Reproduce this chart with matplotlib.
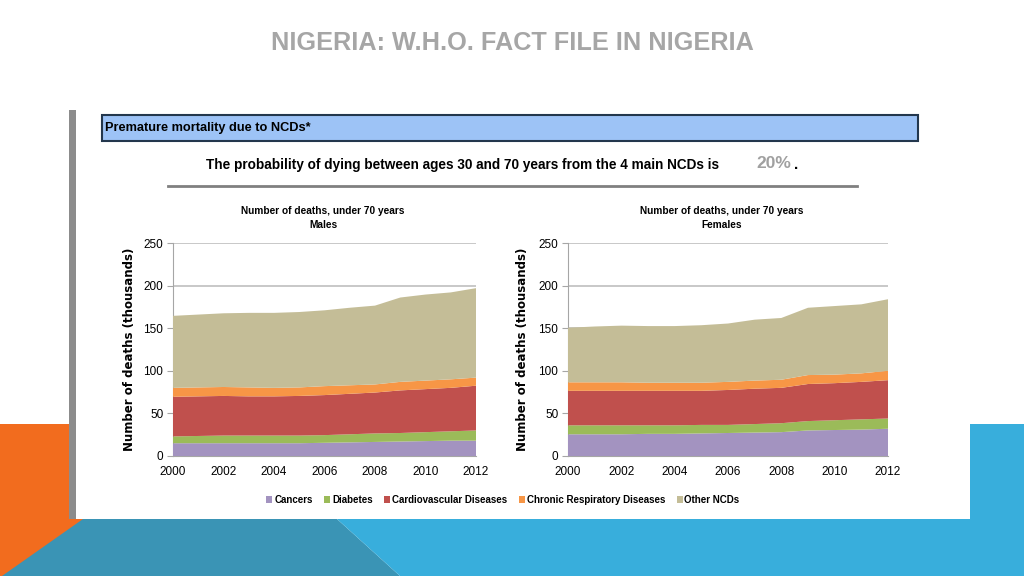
import matplotlib
matplotlib.use('Agg')
import matplotlib.pyplot as plt
from matplotlib.patches import Rectangle, Polygon

# data (thousands of deaths, under 70 years)
years = list(range(2000, 2013))
categories = ['Cancers', 'Diabetes', 'Cardiovascular Diseases',
              'Chronic Respiratory Diseases', 'Other NCDs']
colors = ['#A393C0', '#9BBB59', '#C0504D', '#F79646', '#C4BD97']

male_cancers = [15, 15, 15, 15, 15, 15, 15.5, 16, 16.5, 17, 17.5, 18, 18]
male_diabetes = [8, 8.5, 9, 9, 9, 9, 9, 9.5, 10, 10, 10.5, 11, 12]
male_cardio = [46.5, 46.5, 46.5, 46, 46, 46.5, 47, 47.5, 48, 50, 50.5, 51, 52.5]
male_resp = [10.5, 10.5, 10.5, 10.5, 10, 10, 10.5, 10, 9.5, 10, 10, 10, 9.5]
male_other = [84.5, 85.5, 86.5, 87.5, 88, 88.5, 89, 91, 92.5, 99, 101, 102, 105]

female_cancers = [25.5, 25.5, 25.5, 26, 26, 26.5, 27, 27.5, 28, 30, 30.5, 31, 32]
female_diabetes = [10.5, 10.5, 10.5, 10, 10, 10, 9.5, 10, 10.5, 11, 11.5, 12, 12]
female_cardio = [40.5, 40.5, 40.5, 40.5, 40.5, 40, 41, 41.5, 41.5, 43.5, 43.5, 44, 45]
female_resp = [10, 10, 10, 9.5, 9.5, 9.5, 9.5, 9.5, 9.5, 10.5, 10, 10, 11]
female_other = [64, 65.5, 66.5, 66.5, 66.5, 67.5, 68.5, 71.5, 72.5, 79, 80.5, 81, 84]

sans = ['Liberation Sans', 'DejaVu Sans']

fig = plt.figure(figsize=(10.24, 5.76), dpi=100)

# slide background in pixel coordinates
bg = fig.add_axes([0, 0, 1, 1], zorder=0)
bg.set_xlim(0, 1024)
bg.set_ylim(576, 0)
bg.axis('off')

bg.add_patch(Rectangle((0, 424), 90, 152, color='#F26C1E', lw=0))
bg.add_patch(Polygon([(83, 519), (337, 519), (400, 576), (2, 576)], closed=True, color='#3A94B5', lw=0))
bg.add_patch(Polygon([(337, 519), (970, 519), (970, 424), (1024, 424), (1024, 576), (400, 576)],
                     closed=True, color='#38AEDC', lw=0))
bg.add_patch(Rectangle((76, 108), 894, 411, color='white', lw=0))
bg.add_patch(Rectangle((69, 110), 7, 409, color='#8C8C8C', lw=0))

bg.text(512, 43, 'NIGERIA: W.H.O. FACT FILE IN NIGERIA', ha='center', va='center',
        fontsize=18.2, fontweight='bold', color='#A6A6A6', family=sans)

bg.add_patch(Rectangle((102, 115), 816, 26, facecolor='#9DC3F6', edgecolor='#23374D', lw=1.5))
bg.text(105, 128, 'Premature mortality due to NCDs*', ha='left', va='center',
        fontsize=9.2, fontweight='bold', color='black', family=sans)

bg.text(719, 165, 'The probability of dying between ages 30 and 70 years from the 4 main NCDs is',
        ha='right', va='center', fontsize=9.8, fontweight='bold', color='black', family=sans)
bg.text(756, 163, '20%', ha='left', va='center', fontsize=12.5, fontweight='bold',
        color='#A0A0A0', family=sans)
bg.text(794, 165, '.', ha='left', va='center', fontsize=11, fontweight='bold', family=sans)
bg.plot([168, 857], [186, 186], color='#808080', lw=2)

bg.text(323, 218, 'Number of deaths, under 70 years\nMales', ha='center', va='center',
        fontsize=7.3, fontweight='bold', family=sans, linespacing=1.6)
bg.text(722, 218, 'Number of deaths, under 70 years\nFemales', ha='center', va='center',
        fontsize=7.3, fontweight='bold', family=sans, linespacing=1.6)


def draw_panel(left_px, right_px, series, label_gap):
    ax = fig.add_axes([left_px / 1024, (576 - 456) / 576,
                       (right_px - left_px) / 1024, 213 / 576], zorder=2)
    ax.set_facecolor('none')
    ax.stackplot(years, *series, colors=colors, labels=categories, lw=0, zorder=3)
    ax.set_xlim(2000, 2012)
    ax.set_ylim(0, 250)
    ax.set_yticks(range(0, 251, 50))
    ax.set_xticks(range(2000, 2013, 2))
    ax.set_axisbelow(True)
    ax.yaxis.grid(True, color='#BFBFBF', lw=1.2)
    for s in ['top', 'right']:
        ax.spines[s].set_visible(False)
    ax.spines['left'].set_color('#A6A6A6')
    ax.spines['bottom'].set_color('#A6A6A6')
    ax.tick_params(axis='y', length=4, color='#A6A6A6', pad=3, labelsize=8.5)
    ax.tick_params(axis='x', length=0, pad=7, labelsize=8.5)
    for lab in ax.get_xticklabels() + ax.get_yticklabels():
        lab.set_family(sans)
    ax.set_ylabel('Number of deaths (thousands)', fontsize=8.5, fontweight='bold',
                  family='DejaVu Sans')
    ax.yaxis.set_label_coords(-label_gap / (right_px - left_px), 0.5)
    return ax


ax1 = draw_panel(173, 476, [male_cancers, male_diabetes, male_cardio, male_resp, male_other], 37)
ax2 = draw_panel(568, 888, [female_cancers, female_diabetes, female_cardio, female_resp, female_other], 39)

handles, labels = ax1.get_legend_handles_labels()
fig.legend(handles, labels, loc='center', bbox_to_anchor=(503 / 1024, 1 - 500 / 576),
           ncol=5, frameon=False, handlelength=0.6, handleheight=0.6, handletextpad=0.2,
           columnspacing=1.2, prop={'family': sans, 'size': 7, 'weight': 'bold'})

fig.savefig('out.png', dpi=100)
